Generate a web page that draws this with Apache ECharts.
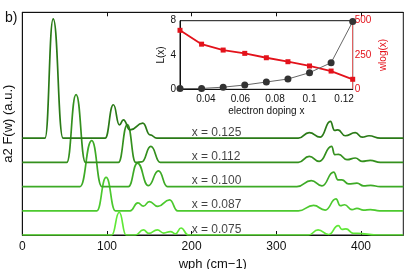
<!DOCTYPE html>
<html><head><meta charset="utf-8">
<script src="https://cdn.jsdelivr.net/npm/echarts@6/dist/echarts.min.js"></script>
<style>html,body{margin:0;padding:0;background:#fff}#c{width:409px;height:269px}</style>
</head><body><div id="c"></div>
<script>
// Spectra: [wph (cm-1), a2F (a.u.)] key points (baselines, peaks, dips)
const curve075 = [[0,0],[105.7,0],[114.5,0.94],[122.5,0],[133.5,0],[143,0.21],[149.3,0.07],[159.5,0.21],[167,0.08],[175,0.14],[181,0.05],[187.5,0.29],[196,0],[338,0],[349.3,0.21],[361.7,0.02],[373.2,0.39],[377.5,0.23],[382.3,0.25],[391,0.07],[396,0.07],[418,0],[450,0]];
const curve087 = [[0,0],[88,0],[99,1.38],[110,0],[127.3,0],[136.5,0.33],[143,0.19],[150,0.38],[160,0.18],[174,0.45],[183.5,0],[326,0],[344,0.22],[357.8,0.03],[370.5,0.49],[375.5,0.21],[380.6,0.25],[389.4,0.05],[395.3,0.1],[403,0.03],[411,0.05],[422,0],[450,0]];
const curve100 = [[0,0],[68.2,0],[82,1.9],[94,0],[125.3,0],[136,0.97],[148.9,0.04],[160.8,0.65],[171.4,0],[324.3,0],[341.3,0.25],[353.9,0.03],[367.8,0.6],[372.8,0.28],[377.5,0.28],[385.3,0.11],[395.3,0.14],[403,0.03],[411.5,0.05],[422.8,0],[450,0]];
const curve112 = [[0,0],[52.5,0],[63.5,2.8],[74.7,0],[113.5,0],[124.1,1.56],[134,0],[141,0.02],[151.8,0.66],[163,0],[326,0],[338.9,0.25],[350.7,0.04],[365.3,0.66],[369,0.32],[373.5,0.33],[383.5,0.11],[393.3,0.18],[401.2,0.04],[411,0.08],[422.8,0],[450,0]];
const curve125 = [[0,0],[26.8,0],[36.5,4.93],[48.1,0],[97.8,0],[107.6,1.38],[114.7,0.55],[119.4,0.76],[127.3,0.34],[142.3,0.62],[150.9,0.14],[158.9,0],[326,0],[338.9,0.23],[351.9,0.04],[363.9,0.69],[368.8,0.32],[372.8,0.34],[381.4,0.1],[393.3,0.23],[401.5,0.04],[409.5,0.1],[422.8,0],[450,0]];
const curves = [curve075, curve087, curve100, curve112, curve125];
const curveLabels = ['x = 0.075', 'x = 0.087', 'x = 0.100', 'x = 0.112', 'x = 0.125'];
const curveOffsets = [0, 1, 2, 3, 4];
const curveColors = ['#5fe836', '#4cc92e', '#3daa26', '#34901e', '#2a7a17'];
const labelWph = 200;
const labelLift = 0.24;
const mainXTicks = [0, 100, 200, 300, 400];

// Inset
const dopingX = [0.025, 0.0375, 0.05, 0.0625, 0.075, 0.0875, 0.1, 0.1125, 0.125];
const lambdaL = [0.08, 0.1, 0.25, 0.5, 0.85, 1.2, 1.94, 3.1, 7.9];
const omegaLog = [430, 329, 286, 262, 230, 201, 170, 133, 73];
const insetXTicks = [0.04, 0.06, 0.08, 0.1, 0.12];

const FONT = 'Liberation Sans, Arial, Helvetica, sans-serif';
const chart = echarts.init(document.getElementById('c'), null, {renderer: 'canvas'});

const series = [];
curves.forEach((c, i) => {
  series.push({
    type: 'line', xAxisIndex: 0, yAxisIndex: 0,
    data: c.map(p => [p[0], p[1] + curveOffsets[i]]),
    symbol: 'none', smooth: 0.5, smoothMonotone: 'x',
    lineStyle: {color: curveColors[i], width: 1.7},
    z: 2 + i
  });
});
series.push({
  type: 'scatter', xAxisIndex: 0, yAxisIndex: 0, symbolSize: 0, silent: true,
  data: curveLabels.map((t, i) => ({value: [labelWph, curveOffsets[i] + labelLift], name: t})),
  label: {show: true, position: 'right', distance: 0, formatter: p => p.name,
          fontSize: 12, fontFamily: FONT, color: '#111'},
  z: 10
});
series.push({
  type: 'line', xAxisIndex: 2, yAxisIndex: 1,
  data: dopingX.map((x, i) => [x, lambdaL[i]]),
  symbol: 'circle', symbolSize: 7, itemStyle: {color: '#333'},
  lineStyle: {color: '#666', width: 1}, z: 20
});
series.push({
  type: 'line', xAxisIndex: 2, yAxisIndex: 2,
  data: dopingX.map((x, i) => [x, omegaLog[i]]),
  symbol: 'rect', symbolSize: 5, itemStyle: {color: '#e3121b'},
  lineStyle: {color: '#e3121b', width: 1.8}, z: 19
});

chart.setOption({
  animation: false,
  backgroundColor: '#fff',
  textStyle: {fontFamily: FONT},
  title: {text: 'b)', left: 5, top: 11, padding: 0,
          textStyle: {fontSize: 14, fontWeight: 'normal', color: '#111', fontFamily: FONT}},
  grid: [
    {left: 22.3, top: 12.3, right: 5.7, bottom: 34, show: true, borderColor: '#111', borderWidth: 1,
     containLabel: false, outerBoundsMode: 'none'},
    {left: 180, top: 20.7, width: 172.7, height: 68.6, show: true, borderColor: '#111', borderWidth: 1,
     backgroundColor: 'transparent', containLabel: false, outerBoundsMode: 'none'}
  ],
  xAxis: [
    {type: 'value', gridIndex: 0, min: 0, max: 450, interval: 100, position: 'bottom',
     axisLine: {lineStyle: {color: '#111'}}, axisTick: {inside: true, length: 4, lineStyle: {color: '#111'}, customValues: mainXTicks},
     axisLabel: {fontSize: 12, color: '#111', margin: 6, customValues: mainXTicks},
     splitLine: {show: false},
     name: 'wph (cm\u22121)', nameLocation: 'middle', nameGap: 15,
     nameTextStyle: {fontSize: 13, color: '#111'}},
    {type: 'value', gridIndex: 0, min: 0, max: 450, interval: 100, position: 'top',
     axisLine: {lineStyle: {color: '#111'}}, axisTick: {inside: true, length: 4, lineStyle: {color: '#111'}, customValues: mainXTicks},
     axisLabel: {show: false}, splitLine: {show: false}},
    {type: 'value', gridIndex: 1, min: 0.025, max: 0.125,
     axisLine: {lineStyle: {color: '#111'}}, axisTick: {show: false},
     axisLabel: {fontSize: 10, color: '#111', margin: 5, customValues: insetXTicks},
     splitLine: {show: false},
     name: 'electron doping x', nameLocation: 'middle', nameGap: 17,
     nameTextStyle: {fontSize: 10, color: '#111'}}
  ],
  yAxis: [
    {type: 'value', gridIndex: 0, min: 0, max: 9.2,
     axisLine: {show: true, lineStyle: {color: '#111'}}, axisTick: {show: false}, axisLabel: {show: false},
     splitLine: {show: false},
     name: 'a2 F(w) (a.u.)', nameLocation: 'middle', nameGap: 7, nameRotate: 90,
     nameTextStyle: {fontSize: 13, color: '#111'}},
    {type: 'value', gridIndex: 1, min: 0, max: 8, interval: 4, position: 'left',
     axisLine: {show: true, lineStyle: {color: '#111'}}, axisTick: {show: false},
     axisLabel: {fontSize: 10, color: '#111', margin: 4},
     splitLine: {show: false},
     name: 'L(x)', nameLocation: 'middle', nameGap: 11, nameRotate: 90,
     nameTextStyle: {fontSize: 10, color: '#111'}},
    {type: 'value', gridIndex: 1, min: 0, max: 500, interval: 250, position: 'right',
     axisLine: {show: true, lineStyle: {color: '#e06060'}}, axisTick: {show: false},
     axisLabel: {fontSize: 10, color: '#e3121b', margin: 2},
     splitLine: {show: false},
     name: 'wlog(x)', nameLocation: 'middle', nameGap: 26, nameRotate: 90,
     nameTextStyle: {fontSize: 10, color: '#e3121b'}}
  ],
  series: series
});
</script></body></html>
